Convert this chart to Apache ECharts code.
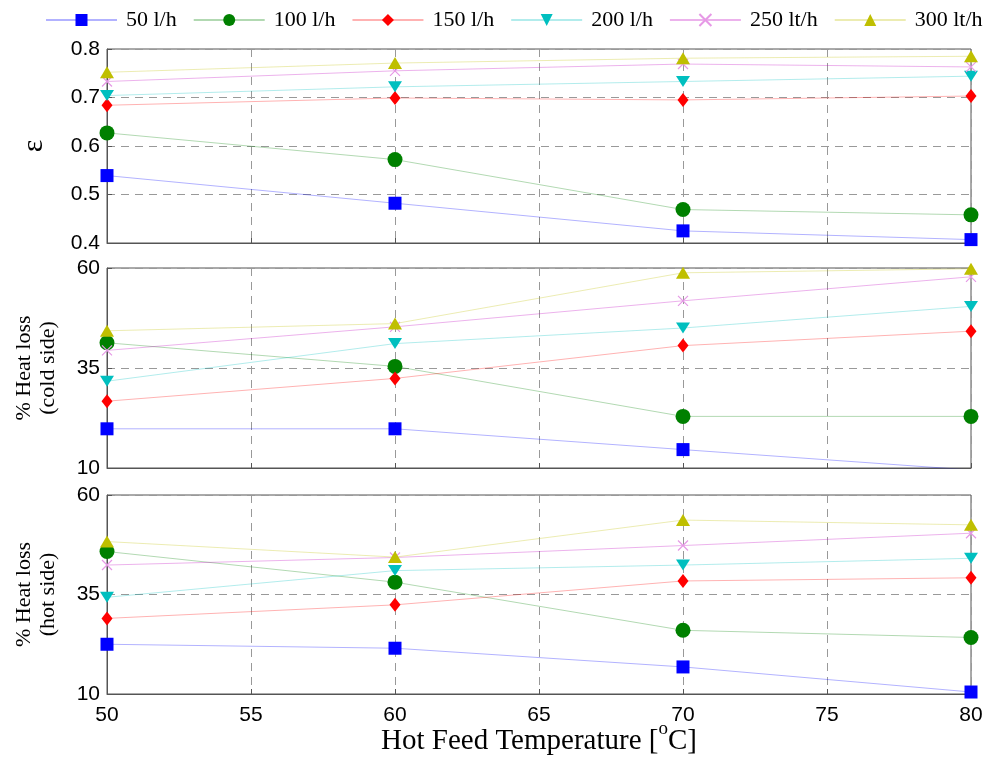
<!DOCTYPE html>
<html>
<head>
<meta charset="utf-8">
<script src="https://cdn.jsdelivr.net/npm/echarts@6/dist/echarts.min.js"></script>
<style>html,body{margin:0;padding:0;background:#fff}#c{width:986px;height:758px}</style>
</head>
<body>
<div id="c"></div>
<script>
var temps = [50, 60, 70, 80];
var xTicks = [50, 55, 60, 65, 70, 75, 80];
var seriesNames = ['50 l/h', '100 l/h', '150 l/h', '200 l/h', '250 lt/h', '300 lt/h'];

var effBlue = [0.539, 0.482, 0.425, 0.407];
var effGreen = [0.627, 0.572, 0.469, 0.458];
var effRed = [0.684, 0.699, 0.695, 0.703];
var effCyan = [0.704, 0.722, 0.733, 0.744];
var effMagenta = [0.733, 0.755, 0.769, 0.763];
var effYellow = [0.752, 0.771, 0.781, 0.785];

var coldBlue = [19.8, 19.8, 14.6, 9.5];
var coldGreen = [41.3, 35.4, 22.9, 22.9];
var coldRed = [26.7, 32.4, 40.6, 44.2];
var coldCyan = [31.7, 41.1, 45.0, 50.4];
var coldMagenta = [39.4, 45.3, 51.8, 57.8];
var coldYellow = [44.3, 46.1, 58.8, 59.8];

var hotBlue = [22.5, 21.5, 16.8, 10.5];
var hotGreen = [45.8, 38.1, 26.0, 24.2];
var hotRed = [29.0, 32.4, 38.4, 39.2];
var hotCyan = [34.3, 41.0, 42.4, 44.1];
var hotMagenta = [42.4, 44.3, 47.3, 50.4];
var hotYellow = [48.3, 44.4, 53.7, 52.5];

var colors = ['#0000ff', '#008000', '#ff0000', '#00bfbf', '#bf00bf', '#bfbf00'];
var styles = [
  {symbol: 'rect', symbolSize: 13},
  {symbol: 'circle', symbolSize: 15},
  {symbol: 'diamond', symbolSize: [11, 14]},
  {symbol: 'triangle', symbolSize: [14, 11], symbolRotate: 180},
  {symbol: 'path://M0,0L10,10M10,0L0,10', symbolSize: 10},
  {symbol: 'triangle', symbolSize: [14, 12]}
];

var panels = [
  [effBlue, effGreen, effRed, effCyan, effMagenta, effYellow],
  [coldBlue, coldGreen, coldRed, coldCyan, coldMagenta, coldYellow],
  [hotBlue, hotGreen, hotRed, hotCyan, hotMagenta, hotYellow]
];

var serif = 'Liberation Serif';
var sans = 'Liberation Sans';

var grids = [
  {left: 107, right: 15, top: 49, height: 194},
  {left: 107, right: 15, top: 268, height: 200},
  {left: 107, right: 15, top: 495, height: 199}
].map(function (g) {
  g.show = true; g.borderColor = '#555'; g.borderWidth = 1; g.backgroundColor = '#fff';
  g.containLabel = false; g.outerBoundsMode = 'none';
  return g;
});

var xAxes = [0, 1, 2].map(function (i) {
  return {
    type: 'value', gridIndex: i, min: 50, max: 80, interval: 5,
    axisLine: {show: true, lineStyle: {color: '#555'}},
    axisTick: {show: true, inside: true, length: 5, lineStyle: {color: '#555'}},
    axisLabel: {show: i === 2, color: '#000', fontFamily: sans, fontSize: 21, margin: 11},
    splitLine: {show: true, lineStyle: {color: '#999', type: [8, 6]}},
    name: i === 2 ? '{a|Hot Feed Temperature [}{s|o}{a|C]}' : '',
    nameLocation: 'middle', nameGap: 26, nameMoveOverlap: false,
    nameTextStyle: {
      rich: {
        a: {fontFamily: serif, fontSize: 29, color: '#000', lineHeight: 42},
        s: {fontFamily: serif, fontSize: 19, color: '#000', lineHeight: 4, verticalAlign: 'top'}
      }
    }
  };
});

var yAxes = [
  {min: 0.4, max: 0.8, interval: 0.1, name: 'ε', nameGap: 57, fs: 30, fmt: function (v) { return v.toFixed(1); }},
  {min: 10, max: 60, interval: 25, name: '% Heat loss\n(cold side)', nameGap: 47, fs: 22},
  {min: 10, max: 60, interval: 25, name: '% Heat loss\n(hot side)', nameGap: 47, fs: 22}
].map(function (a, i) {
  return {
    type: 'value', gridIndex: i, min: a.min, max: a.max, interval: a.interval,
    axisLine: {show: true, lineStyle: {color: '#555'}},
    axisTick: {show: true, inside: true, length: 5, lineStyle: {color: '#555'}},
    axisLabel: {color: '#000', fontFamily: sans, fontSize: 21, margin: 7, formatter: a.fmt},
    splitLine: {show: true, lineStyle: {color: '#999', type: [8, 6]}},
    name: a.name, nameLocation: 'middle', nameGap: a.nameGap, nameRotate: 90, nameMoveOverlap: false,
    nameTextStyle: {fontFamily: serif, fontSize: a.fs, color: '#000', lineHeight: a.fs + 2}
  };
});

var series = [];
panels.forEach(function (sets, p) {
  sets.forEach(function (vals, k) {
    var st = styles[k];
    var s = {
      name: seriesNames[k], type: 'line', xAxisIndex: p, yAxisIndex: p,
      data: temps.map(function (t, j) { return [t, vals[j]]; }),
      symbol: st.symbol, symbolSize: st.symbolSize, symbolRotate: st.symbolRotate || 0,
      showAllSymbol: true, clip: true, animation: false,
      lineStyle: {color: colors[k], width: 1, opacity: 0.3},
      itemStyle: {color: colors[k], opacity: 1},
      emphasis: {disabled: true}
    };
    if (k === 4) {
      s.itemStyle = {color: '#e699e6', borderColor: '#e699e6', borderWidth: 1.2};
    }
    series.push(s);
  });
});

var chart = echarts.init(document.getElementById('c'), null, {renderer: 'canvas'});
chart.setOption({
  animation: false,
  backgroundColor: '#fff',
  legend: {
    data: seriesNames, left: 45, top: 9, padding: 0, width: 940,
    itemWidth: 71, itemHeight: 15, itemGap: 16,
    textStyle: {fontFamily: serif, fontSize: 22, color: '#000', padding: [0, 0, 0, 4]}
  },
  grid: grids,
  xAxis: xAxes,
  yAxis: yAxes,
  series: series
});
</script>
</body>
</html>
